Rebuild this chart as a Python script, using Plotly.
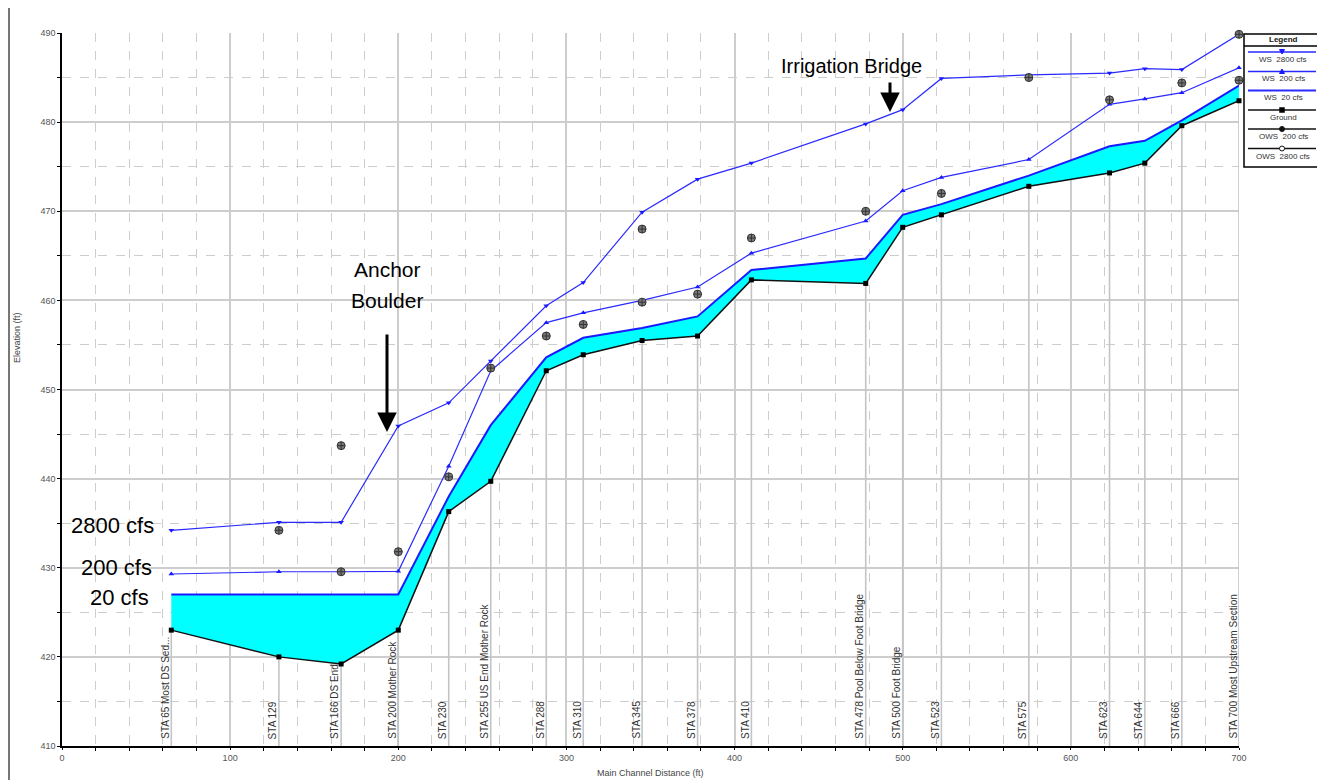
import plotly.graph_objects as go

# ---------------- data ----------------
stations = [65, 129, 166, 200, 230, 255, 288, 310, 345, 378, 410, 478, 500, 523, 575, 623, 644, 666, 700]
station_labels = ["STA 65 Most DS Sed...", "STA 129", "STA 166 DS End", "STA 200 Mother Rock", "STA 230",
                  "STA 255 US End Mother Rock", "STA 288", "STA 310", "STA 345", "STA 378", "STA 410",
                  "STA 478 Pool Below Foot Bridge", "STA 500 Foot Bridge", "STA 523", "STA 575", "STA 623",
                  "STA 644", "STA 666", "STA 700 Most Upstream Section"]
ground = [423.0, 420.0, 419.2, 423.0, 436.3, 439.7, 452.1, 453.9, 455.5, 456.0, 462.3, 461.9, 468.2, 469.6,
          472.8, 474.3, 475.4, 479.6, 482.4]
ws20 = [427.0, 427.0, 427.0, 427.0, 438.0, 446.0, 453.6, 455.8, 456.9, 458.2, 463.4, 464.7, 469.6, 470.8,
        474.0, 477.3, 477.9, 480.2, 484.1]
ws200 = [429.3, 429.55, 429.55, 429.6, 441.4, 452.1, 457.5, 458.6, 460.0, 461.5, 465.3, 468.9, 472.3, 473.8,
         475.8, 482.0, 482.6, 483.3, 486.1]
ws2800 = [434.2, 435.1, 435.1, 445.9, 448.5, 453.2, 459.4, 462.0, 469.9, 473.6, 475.4, 479.8, 481.4, 484.9,
          485.3, 485.5, 486.0, 485.9, 489.85]
ows200_x = [166, 200, 230, 255, 288, 310, 345, 378, 410, 478, 523, 623, 666, 700]
ows200_y = [429.55, 431.8, 440.2, 452.4, 456.0, 457.3, 459.8, 460.7, 467.0, 470.0, 472.0, 482.5, 484.4, 484.7]
ows2800_x = [129, 166, 345, 575, 700]
ows2800_y = [434.2, 443.7, 468.0, 485.0, 489.85]

legend_names = ["WS  2800 cfs", "WS  200 cfs", "WS  20 cfs", "Ground", "OWS  200 cfs", "OWS  2800 cfs"]

FONT = "Arial, Liberation Sans, sans-serif"
BLUE = "#2a2aff"

fig = go.Figure()

# station vertical lines (from bottom to ground)
vx, vy = [], []
for s, g in zip(stations, ground):
    vx += [s, s, None]
    vy += [410, g, None]
fig.add_trace(go.Scatter(x=vx, y=vy, mode="lines", line=dict(color="#c4c4c4", width=1.6),
                         hoverinfo="skip", showlegend=False))

# cyan fill between ground and WS 20
fig.add_trace(go.Scatter(x=stations, y=ground, mode="lines", line=dict(color="rgba(0,0,0,0)", width=0),
                         showlegend=False, hoverinfo="skip"))
fig.add_trace(go.Scatter(x=stations, y=ws20, mode="lines", fill="tonexty", fillcolor="#00ffff",
                         line=dict(color="#1a1aff", width=2), name=legend_names[2], showlegend=False))
# ground
fig.add_trace(go.Scatter(x=stations, y=ground, mode="lines+markers", line=dict(color="#111111", width=1.5),
                         marker=dict(symbol="square", size=5, color="#000000"), name=legend_names[3],
                         showlegend=False, cliponaxis=False))
# WS 200
fig.add_trace(go.Scatter(x=stations, y=ws200, mode="lines+markers", line=dict(color=BLUE, width=1.2),
                         marker=dict(symbol="triangle-up", size=5, color="#1a1aff"), name=legend_names[1],
                         showlegend=False, cliponaxis=False))
# WS 2800
fig.add_trace(go.Scatter(x=stations, y=ws2800, mode="lines+markers", line=dict(color=BLUE, width=1.2),
                         marker=dict(symbol="triangle-down", size=5, color="#1a1aff"), name=legend_names[0],
                         showlegend=False, cliponaxis=False))
# observed
fig.add_trace(go.Scatter(x=ows200_x, y=ows200_y, mode="markers",
                         marker=dict(symbol="circle-cross", size=8, color="#7a7a7a",
                                     line=dict(color="#333333", width=1)),
                         name=legend_names[4], showlegend=False, cliponaxis=False))
fig.add_trace(go.Scatter(x=ows2800_x, y=ows2800_y, mode="markers",
                         marker=dict(symbol="circle-cross", size=8, color="#7a7a7a",
                                     line=dict(color="#333333", width=1)),
                         name=legend_names[5], showlegend=False, cliponaxis=False))

# ---------------- layout helpers (screen pixel -> paper) ----------------
OFF = 8  # page body margin of the browser
SW, SH = 1325, 780
W, H = SW - OFF, SH - OFF
X0, X1, Y0, Y1 = 62, 1239, 33, 746  # plot area in screen pixels
L, T = X0 - OFF, Y0 - OFF
R, B = W - (X1 - OFF), H - (Y1 - OFF)
PW, PH = X1 - X0, Y1 - Y0


def px(x):
    return (x - X0) / PW


def py(y):
    return (Y1 - y) / PH


annotations = []
shapes = []

# station labels
for s, lab in zip(stations, station_labels):
    annotations.append(dict(x=s, y=410, xref="x", yref="y", text=lab, textangle=-90, showarrow=False,
                            xanchor="right", yanchor="bottom", yshift=5, xshift=1,
                            font=dict(family=FONT, size=10, color="#333333")))

# flow labels
for txt, xr, yc in [("2800 cfs", 156, 525), ("200 cfs", 154, 567), ("20 cfs", 151, 597)]:
    annotations.append(dict(x=px(xr), y=py(yc), xref="paper", yref="paper", text=txt, showarrow=False,
                            xanchor="right", yanchor="middle", font=dict(family=FONT, size=22, color="#000")))

annotations.append(dict(x=px(387), y=py(269), xref="paper", yref="paper", text="Anchor", showarrow=False,
                        xanchor="center", yanchor="middle", font=dict(family=FONT, size=21, color="#000")))
annotations.append(dict(x=px(387), y=py(300), xref="paper", yref="paper", text="Boulder", showarrow=False,
                        xanchor="center", yanchor="middle", font=dict(family=FONT, size=21, color="#000")))
annotations.append(dict(x=px(851), y=py(66), xref="paper", yref="paper", text="Irrigation Bridge",
                        showarrow=False, xanchor="center", yanchor="middle",
                        font=dict(family=FONT, size=20, color="#000")))

# arrows
annotations.append(dict(x=px(387), y=py(432), xref="paper", yref="paper", text="", showarrow=True,
                        ax=0, ay=-99, arrowhead=2, arrowsize=1.3, arrowwidth=3, arrowcolor="#000"))
annotations.append(dict(x=px(890), y=py(112), xref="paper", yref="paper", text="", showarrow=True,
                        ax=0, ay=-31, arrowhead=2, arrowsize=1.3, arrowwidth=3, arrowcolor="#000"))

# axis titles
annotations.append(dict(x=px(650), y=py(773), xref="paper", yref="paper", text="Main Channel Distance (ft)",
                        showarrow=False, xanchor="center", yanchor="middle",
                        font=dict(family=FONT, size=9, color="#444")))
annotations.append(dict(x=px(17), y=py(338), xref="paper", yref="paper", text="Elevation (ft)", textangle=-90,
                        showarrow=False, xanchor="center", yanchor="middle",
                        font=dict(family=FONT, size=9, color="#444")))

# legend box
shapes.append(dict(type="rect", xref="paper", yref="paper", x0=px(1244), x1=px(1322), y0=py(34), y1=py(167),
                   line=dict(color="#000", width=1.5), fillcolor="white", layer="above"))
shapes.append(dict(type="line", xref="paper", yref="paper", x0=px(1244), x1=px(1322), y0=py(46), y1=py(46),
                   line=dict(color="#000", width=1.5), layer="above"))
annotations.append(dict(x=px(1283), y=py(40), xref="paper", yref="paper", text="<b>Legend</b>", showarrow=False,
                        xanchor="center", yanchor="middle", font=dict(family=FONT, size=8, color="#111")))
leg = [(legend_names[0], BLUE, "tdown", 52, 60),
       (legend_names[1], BLUE, "tup", 71.5, 78.5),
       (legend_names[2], BLUE, None, 90.5, 97),
       (legend_names[3], "#111", "square", 110, 117.5),
       (legend_names[4], "#111", "circle", 129, 136.5),
       (legend_names[5], "#111", "circlex", 148.5, 156.5)]
for name, col, mk, ly, ty in leg:
    shapes.append(dict(type="line", xref="paper", yref="paper", x0=px(1248), x1=px(1316), y0=py(ly), y1=py(ly),
                       line=dict(color=col, width=1.5 if mk else 2), layer="above"))
    cx = 1282
    if mk == "tdown":
        shapes.append(dict(type="path", xref="paper", yref="paper", layer="above",
                           path=f"M {px(cx-2.5)},{py(ly-2.5)} L {px(cx+2.5)},{py(ly-2.5)} L {px(cx)},{py(ly+2)} Z",
                           fillcolor="#1a1aff", line=dict(color="#1a1aff", width=1)))
    elif mk == "tup":
        shapes.append(dict(type="path", xref="paper", yref="paper", layer="above",
                           path=f"M {px(cx-2.5)},{py(ly+2)} L {px(cx+2.5)},{py(ly+2)} L {px(cx)},{py(ly-2.5)} Z",
                           fillcolor="#1a1aff", line=dict(color="#1a1aff", width=1)))
    elif mk == "square":
        shapes.append(dict(type="rect", xref="paper", yref="paper", layer="above",
                           x0=px(cx-2.5), x1=px(cx+2.5), y0=py(ly-2.5), y1=py(ly+2.5),
                           fillcolor="#000", line=dict(color="#000", width=0.5)))
    elif mk == "circle":
        shapes.append(dict(type="circle", xref="paper", yref="paper", layer="above",
                           x0=px(cx-2.5), x1=px(cx+2.5), y0=py(ly-2.5), y1=py(ly+2.5),
                           fillcolor="#111", line=dict(color="#111", width=1)))
    elif mk == "circlex":
        shapes.append(dict(type="circle", xref="paper", yref="paper", layer="above",
                           x0=px(cx-2.5), x1=px(cx+2.5), y0=py(ly-2.5), y1=py(ly+2.5),
                           fillcolor="white", line=dict(color="#111", width=1)))
    annotations.append(dict(x=px(1283), y=py(ty), xref="paper", yref="paper", text=name, showarrow=False,
                            xanchor="center", yanchor="middle", font=dict(family=FONT, size=8, color="#333")))

# outer frame lines
shapes.append(dict(type="line", xref="paper", yref="paper", x0=px(9), x1=px(9), y0=py(8), y1=py(780),
                   line=dict(color="#777", width=2)))
shapes.append(dict(type="line", xref="paper", yref="paper", x0=px(1323), x1=px(1323), y0=py(8), y1=py(780),
                   line=dict(color="#777", width=2)))

fig.update_layout(
    template="none",
    width=W, height=H,
    margin=dict(l=L, r=R, t=T, b=B, pad=0, autoexpand=False),
    paper_bgcolor="white", plot_bgcolor="white",
    font=dict(family=FONT, size=9, color="#555"),
    showlegend=False,
    annotations=annotations,
    shapes=shapes,
    xaxis=dict(range=[0, 700], dtick=100, tick0=0, showgrid=True, gridcolor="#cdcdcd", gridwidth=1.5,
               automargin=False,
               zeroline=False, showline=True, linecolor="#000", linewidth=1.5, ticks="outside", ticklen=2,
               tickcolor="#000", tickfont=dict(family=FONT, size=9, color="#555"),
               minor=dict(dtick=20, showgrid=True, gridcolor="#cdcdcd", griddash="dash", gridwidth=1,
                          ticks="outside", ticklen=3, tickcolor="#000")),
    yaxis=dict(range=[410, 490], dtick=10, tick0=410, showgrid=True, gridcolor="#cdcdcd", gridwidth=1.5,
               automargin=False,
               zeroline=False, showline=True, linecolor="#000", linewidth=1.5, ticks="outside", ticklen=3,
               tickcolor="#000", tickfont=dict(family=FONT, size=9, color="#555"),
               minor=dict(dtick=5, showgrid=True, gridcolor="#cdcdcd", griddash="dash", gridwidth=1,
                          ticks="outside", ticklen=3, tickcolor="#000")),
)

fig.write_html("out.html")
